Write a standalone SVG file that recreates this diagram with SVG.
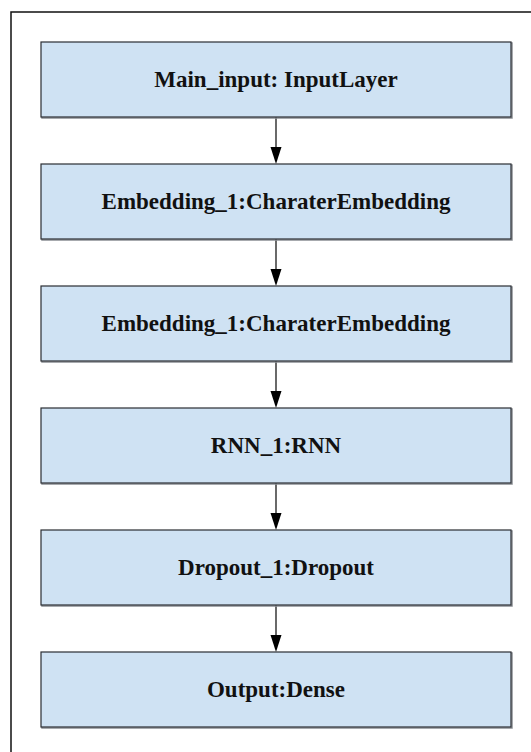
<svg xmlns="http://www.w3.org/2000/svg" width="531" height="752" viewBox="0 0 531 752">
<style>
.shadow{fill:none;stroke:#8a8e94;stroke-width:1.5}
.box{fill:#cfe2f3;stroke:#2a2d33;stroke-width:1.2}
.lbl{font-family:"Liberation Serif","Times New Roman",serif;font-weight:bold;font-size:23px;fill:#111;text-anchor:middle}
.conn{stroke:#444;stroke-width:1.6;fill:none}
.head{fill:#000}
</style>
<rect x="0" y="0" width="531" height="752" fill="#fff"/>
<path d="M11,753 L11,12 L532,12" fill="none" stroke="#111" stroke-width="1.5"/>
<g id="connectors">
<line class="conn" x1="276" y1="117" x2="276" y2="150"/>
<path class="head" d="M270.5,147 L281.5,147 L276,164 Z"/>
<line class="conn" x1="276" y1="239" x2="276" y2="272"/>
<path class="head" d="M270.5,269 L281.5,269 L276,286 Z"/>
<line class="conn" x1="276" y1="361" x2="276" y2="394"/>
<path class="head" d="M270.5,391 L281.5,391 L276,408 Z"/>
<line class="conn" x1="276" y1="483" x2="276" y2="516"/>
<path class="head" d="M270.5,513 L281.5,513 L276,530 Z"/>
<line class="conn" x1="276" y1="605" x2="276" y2="638"/>
<path class="head" d="M270.5,635 L281.5,635 L276,652 Z"/>
</g>
<g id="node1">
<rect class="shadow" x="42" y="43" width="470" height="75"/>
<rect class="box" x="41" y="42" width="470" height="75"/>
<text class="lbl" x="276" y="87">Main_input: InputLayer</text>
</g>
<g id="node2">
<rect class="shadow" x="42" y="165" width="470" height="75"/>
<rect class="box" x="41" y="164" width="470" height="75"/>
<text class="lbl" x="276" y="209">Embedding_1:CharaterEmbedding</text>
</g>
<g id="node3">
<rect class="shadow" x="42" y="287" width="470" height="75"/>
<rect class="box" x="41" y="286" width="470" height="75"/>
<text class="lbl" x="276" y="331">Embedding_1:CharaterEmbedding</text>
</g>
<g id="node4">
<rect class="shadow" x="42" y="409" width="470" height="75"/>
<rect class="box" x="41" y="408" width="470" height="75"/>
<text class="lbl" x="276" y="453">RNN_1:RNN</text>
</g>
<g id="node5">
<rect class="shadow" x="42" y="531" width="470" height="75"/>
<rect class="box" x="41" y="530" width="470" height="75"/>
<text class="lbl" x="276" y="575">Dropout_1:Dropout</text>
</g>
<g id="node6">
<rect class="shadow" x="42" y="653" width="470" height="75"/>
<rect class="box" x="41" y="652" width="470" height="75"/>
<text class="lbl" x="276" y="697">Output:Dense</text>
</g>
</svg>
